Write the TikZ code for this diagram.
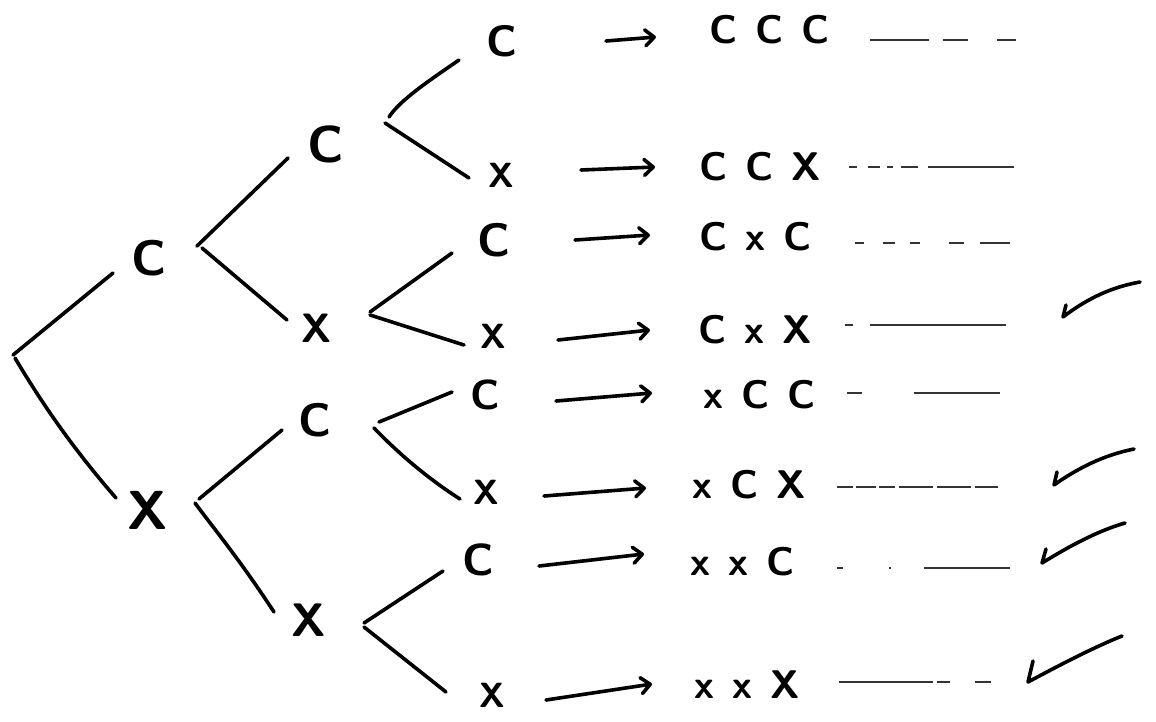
\documentclass[tikz,border=0pt]{standalone}
\usepackage{fontspec}
\usetikzlibrary{arrows.meta}
\tikzset{
  pen/.style={line width=3.6pt, line cap=round, line join=round},
  lettr/.style={font={\sffamily\bfseries\fontsize{#1}{#1}\selectfont}, inner sep=0pt, anchor=center},
  outc/.style={font={\sffamily\bfseries\fontsize{40}{40}\selectfont}, inner sep=0pt, anchor=west},
  arr/.style={pen, -{Straight Barb[length=9pt,width=16pt,round]}},
  trail/.style={line width=1.8pt, black!80, line cap=butt},
}
\newcommand\spaced[3]{#1\hspace{18pt}#2\hspace{18pt}#3}
\begin{document}
\begin{tikzpicture}[x=1pt,y=-1pt]
\fill[white] (0,0) rectangle (1156,721);
\useasboundingbox (0,0) rectangle (1156,721);

% tree: root fork and the letters of the three tosses
\coordinate (root) at (13,355);
\node[lettr=50] (c1) at (149,258) {C};
\node[lettr=55] (x1) at (148,510) {X};
\node[lettr=52] (c2) at (326,144) {C};
\node[lettr=41] (x2) at (317,328) {X};
\node[lettr=47] (c3) at (315,420) {C};
\node[lettr=47] (x3) at (309,620) {X};
\node[lettr=44] (l1) at (502,41)  {C};
\node[lettr=35] (l2) at (501,175) {X};
\node[lettr=47] (l3) at (494,240) {C};
\node[lettr=35] (l4) at (493,336) {X};
\node[lettr=42] (l5) at (485,395) {C};
\node[lettr=35] (l6) at (486,492) {X};
\node[lettr=45] (l7) at (478,560) {C};
\node[lettr=35] (l8) at (492,695) {X};

% outcomes
\node[outc] (o1) at (709,30)  {\spaced{C}{C}{C}};
\node[outc] (o2) at (699,167) {\spaced{C}{C}{X}};
\node[outc] (o3) at (699,237) {\spaced{C}{x}{C}};
\node[outc] (o4) at (698,330) {\spaced{C}{x}{X}};
\node[outc] (o5) at (703,395) {\spaced{x}{C}{C}};
\node[outc] (o6) at (692,485) {\spaced{x}{C}{X}};
\node[outc] (o7) at (690,562) {\spaced{x}{x}{C}};
\node[outc] (o8) at (694,685) {\spaced{x}{x}{X}};

% branches
\draw[pen] (root) -- ([shift={(-36,15)}]c1.center);
\draw[pen] ([shift={(2,3)}]root) .. controls (40,400) and (70,445) .. ([shift={(-32,-12)}]x1.center);
\draw[pen] ([shift={(48,-12)}]c1.center) -- ([shift={(-38,14)}]c2.center);
\draw[pen] ([shift={(53,-10)}]c1.center) -- ([shift={(-30,-8)}]x2.center);
\draw[pen] ([shift={(51,-11)}]x1.center) -- ([shift={(-33,10)}]c3.center);
\draw[pen] ([shift={(47,-7)}]x1.center) .. controls (215,530) and (240,560) .. ([shift={(-35,-8)}]x3.center);
\draw[pen] ([shift={(63,-27)}]c2.center) .. controls (400,100) and (430,80) .. ([shift={(-43,19)}]l1.center);
\draw[pen] ([shift={(59,-21)}]c2.center) -- ([shift={(-32,3)}]l2.center);
\draw[pen] ([shift={(53,-16)}]x2.center) -- ([shift={(-42,13)}]l3.center);
\draw[pen] ([shift={(53,-13)}]x2.center) -- ([shift={(-29,9)}]l4.center);
\draw[pen] ([shift={(64,2)}]c3.center) -- ([shift={(-33,-3)}]l5.center);
\draw[pen] ([shift={(59,8)}]c3.center) .. controls (400,455) and (430,480) .. ([shift={(-26,7)}]l6.center);
\draw[pen] ([shift={(55,3)}]x3.center) -- ([shift={(-35,11)}]l7.center);
\draw[pen] ([shift={(55,7)}]x3.center) -- ([shift={(-46,-3)}]l8.center);

% arrows from leaves to outcomes
\draw[arr] ([shift={(104,0)}]l1.center) -- ([shift={(-53,7)}]o1.west);
\draw[arr] ([shift={(80,-5)}]l2.center) -- ([shift={(-44,0)}]o2.west);
\draw[arr] ([shift={(81,0)}]l3.center) -- ([shift={(-49,-2)}]o3.west);
\draw[arr] ([shift={(65,4)}]l4.center) -- ([shift={(-48,0)}]o4.west);
\draw[arr] ([shift={(71,6)}]l5.center) -- ([shift={(-51,-2)}]o5.west);
\draw[arr] ([shift={(58,4)}]l6.center) -- ([shift={(-46,3)}]o6.west);
\draw[arr] ([shift={(61,6)}]l7.center) -- ([shift={(-46,-8)}]o7.west);
\draw[arr] ([shift={(54,5)}]l8.center) -- ([shift={(-42,-1)}]o8.west);

% broken trailing lines
\foreach \y/\segs in {
  40/{870/929,943/968,997/1016},
  167/{849/857,868/880,887/893,901/918,928/1014},
  243/{855/864,883/895,910/920,949/964,980/1010},
  325/{845/853,870/1006},
  393/{847/862,914/1000},
  487/{837/853,856/876,879/895,899/933,937/971,975/998},
  568/{837/843,889/891,924/1010},
  682/{839/933,937/950,975/991}}{
  \foreach \a/\b in \segs { \draw[trail] (\a,\y) -- (\b,\y); }
}

% ticks pointing back at the rows
\draw[pen] (1066,305) -- (1063,317) .. controls (1088,298) and (1112,287) .. (1140,282);
\draw[pen] (1057,472) -- (1054,485) .. controls (1078,468) and (1104,455) .. (1134,449);
\draw[pen] (1046,549) -- (1042,563) .. controls (1068,547) and (1097,531) .. (1125,523);
\draw[pen] (1033,661) -- (1028,682) .. controls (1058,666) and (1092,648) .. (1122,636);
\end{tikzpicture}
\end{document}
